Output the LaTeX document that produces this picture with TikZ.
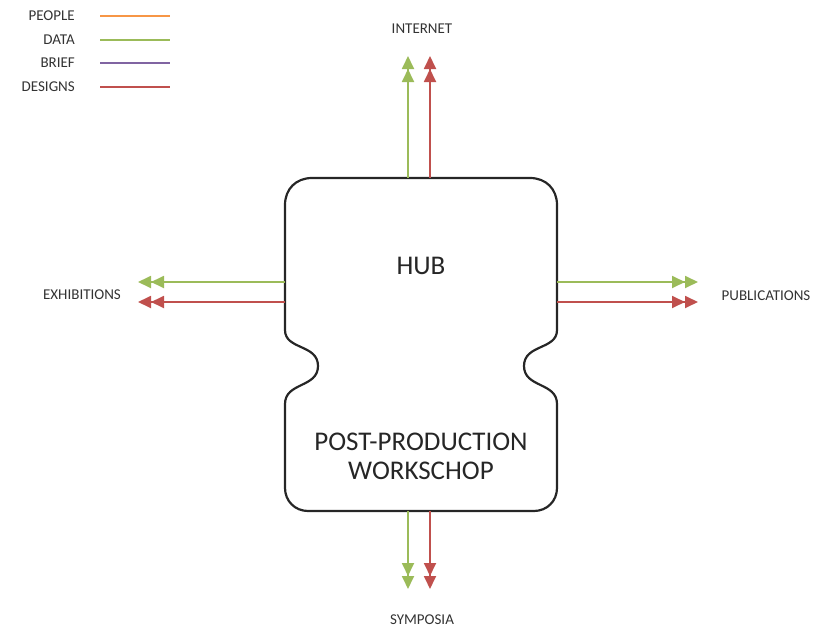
\documentclass[tikz,border=0pt]{standalone}
\usepackage{fontspec}
\setmainfont{Carlito}
\usetikzlibrary{arrows.meta}
\definecolor{cpeople}{HTML}{F79646}
\definecolor{cdata}{HTML}{9BBB59}
\definecolor{cbrief}{HTML}{8064A2}
\definecolor{cdesign}{HTML}{C0504D}
\tikzset{
  flow/.style={line width=1.8pt, -{Triangle[length=13pt,width=12pt]Triangle[length=13pt,width=12pt,sep=1pt]}},
  legline/.style={line width=1.8pt},
  lbl/.style={font=\fontsize{15}{17}\selectfont, text=black!80, inner sep=0pt},
  big/.style={font=\fontsize{27}{29}\selectfont, text=black!85, align=center, inner sep=0pt},
  boxline/.style={line width=2.2pt, draw=black!85}
}
\begin{document}
\begin{tikzpicture}[x=1pt,y=-1pt]
\useasboundingbox (0,0) rectangle (817,629);
% legend
\node[lbl, anchor=east] (lp) at (75,16) {PEOPLE};
\node[lbl, anchor=east] (ld) at (75,40) {DATA};
\node[lbl, anchor=east] (lb) at (75,63) {BRIEF};
\node[lbl, anchor=east] (lg) at (75,87) {DESIGNS};
\coordinate (lp1) at (100,16); \coordinate (lp2) at (170,16);
\coordinate (ld1) at (100,40); \coordinate (ld2) at (170,40);
\coordinate (lb1) at (100,63); \coordinate (lb2) at (170,63);
\coordinate (lg1) at (100,87); \coordinate (lg2) at (170,87);
\draw[legline, cpeople] (lp1) -- (lp2);
\draw[legline, cdata] (ld1) -- (ld2);
\draw[legline, cbrief] (lb1) -- (lb2);
\draw[legline, cdesign] (lg1) -- (lg2);
% box
\draw[boxline] (312,178) -- (530,178) .. controls (546,178) and (557,189) .. (557,205)
  -- (557,330) .. controls (557,350) and (524,344) .. (524,366) .. controls (524,388) and (557,382) .. (557,404)
  -- (557,488) .. controls (557,501) and (547,511) .. (534,511)
  -- (308,511) .. controls (295,511) and (285,501) .. (285,488)
  -- (285,404) .. controls (285,382) and (318,388) .. (318,366) .. controls (318,344) and (285,350) .. (285,330)
  -- (285,205) .. controls (285,189) and (296,178) .. (312,178) -- cycle;
\node[minimum width=272pt, minimum height=333pt, inner sep=0pt] (box) at (421,344.5) {};
\node[big] (hub) at (421,266) {HUB};
\node[big] (pp) at (421,456) {POST-PRODUCTION\\WORKSCHOP};
% labels
\node[lbl] (internet) at (422,29) {INTERNET};
\node[lbl] (symposia) at (422,620) {SYMPOSIA};
\node[lbl] (exhib) at (82,295) {EXHIBITIONS};
\node[lbl] (publ) at (766,296) {PUBLICATIONS};
% arrow endpoints
\coordinate (tg0) at (408,178); \coordinate (tg1) at (408,55);
\coordinate (tr0) at (430,178); \coordinate (tr1) at (430,55);
\coordinate (bg0) at (408,511); \coordinate (bg1) at (408,590);
\coordinate (br0) at (430,511); \coordinate (br1) at (430,590);
\coordinate (lg0) at (285,282); \coordinate (lgt) at (137,282);
\coordinate (lr0) at (285,302); \coordinate (lrt) at (137,302);
\coordinate (rg0) at (557,282); \coordinate (rgt) at (699,282);
\coordinate (rr0) at (557,302); \coordinate (rrt) at (699,302);
\draw[flow, cdata] (tg0) -- (tg1);
\draw[flow, cdesign] (tr0) -- (tr1);
\draw[flow, cdata] (bg0) -- (bg1);
\draw[flow, cdesign] (br0) -- (br1);
\draw[flow, cdata] (lg0) -- (lgt);
\draw[flow, cdesign] (lr0) -- (lrt);
\draw[flow, cdata] (rg0) -- (rgt);
\draw[flow, cdesign] (rr0) -- (rrt);
\end{tikzpicture}
\end{document}
